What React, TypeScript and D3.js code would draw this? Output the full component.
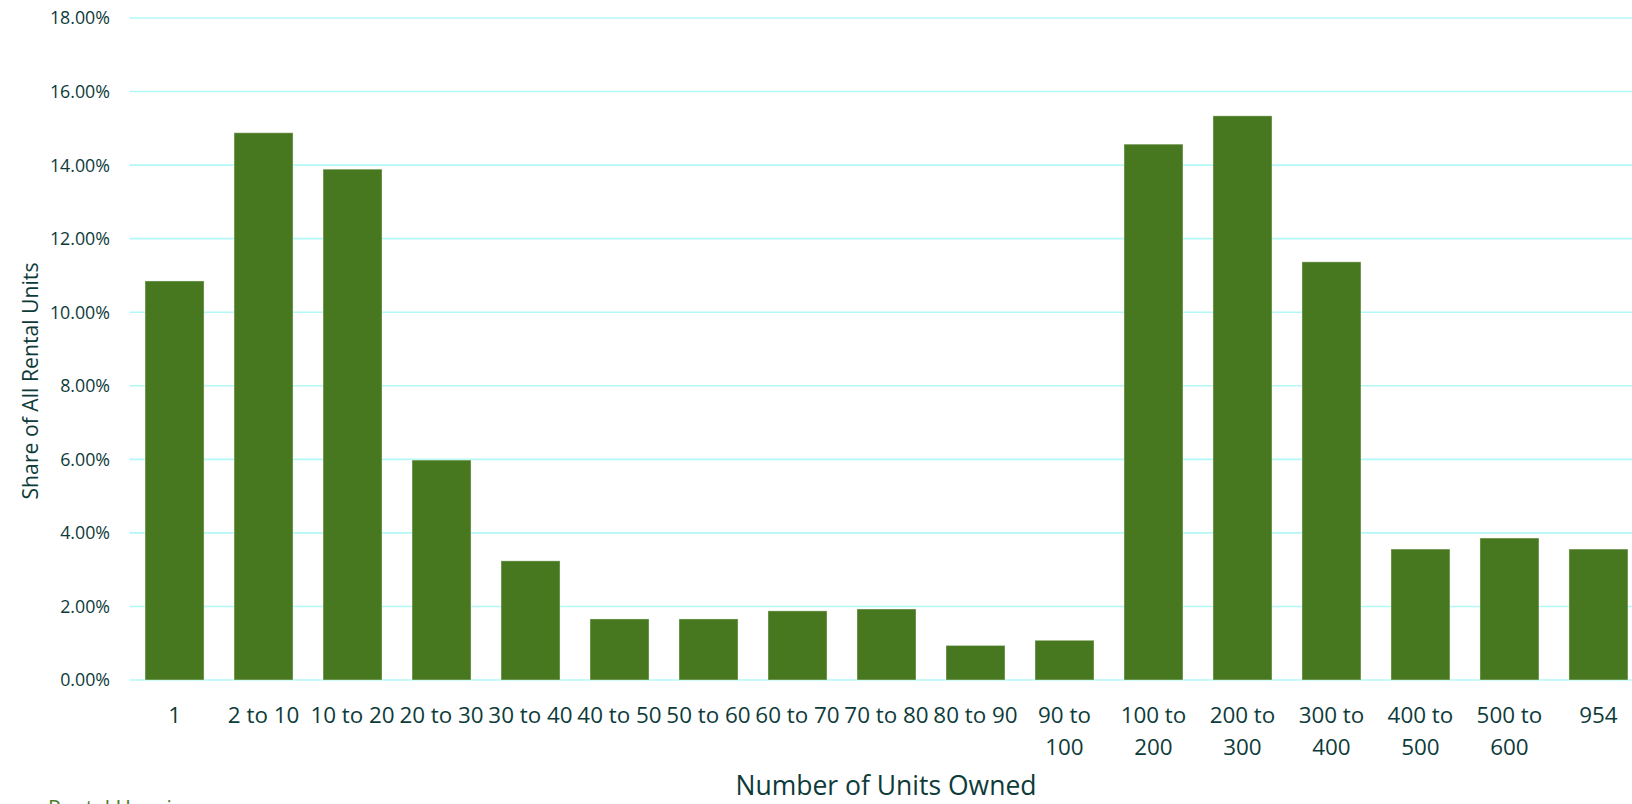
import React from "react";
import * as d3 from "d3";

// units-owned buckets and share of all rental units (in %)
const categories = [
  "1", "2 to 10", "10 to 20", "20 to 30", "30 to 40", "40 to 50", "50 to 60",
  "60 to 70", "70 to 80", "80 to 90", "90 to 100", "100 to 200", "200 to 300",
  "300 to 400", "400 to 500", "500 to 600", "954",
];
const shares = [
  10.85, 14.88, 13.89, 5.98, 3.24, 1.66, 1.66, 1.88, 1.93, 0.94, 1.08, 14.57,
  15.34, 11.37, 3.56, 3.86, 3.56,
];
// how the axis wraps the longer labels
const tickLines = [
  ["1"], ["2 to 10"], ["10 to 20"], ["20 to 30"], ["30 to 40"], ["40 to 50"],
  ["50 to 60"], ["60 to 70"], ["70 to 80"], ["80 to 90"], ["90 to", "100"],
  ["100 to", "200"], ["200 to", "300"], ["300 to", "400"], ["400 to", "500"],
  ["500 to", "600"], ["954"],
];
const yTicks = [0, 2, 4, 6, 8, 10, 12, 14, 16, 18];

const W = 1632;
const H = 804;
const font = "'Open Sans', 'Noto Sans', sans-serif";
const textColor = "#0d3b3a";
const gridColor = "#b3f7f7";
const barColor = "#47781f";

export default function App() {
  const x = d3
    .scaleBand<string>()
    .domain(categories)
    .range([130, 1643])
    .paddingInner(0.337)
    .paddingOuter(0.169);
  const y = d3.scaleLinear().domain([0, 18]).range([680, 18]);
  const fmt = (d: number) => d3.format(".2f")(d) + "%";
  const cx = (c: string) => (x(c) ?? 0) + x.bandwidth() / 2;

  return (
    <svg
      width={W}
      height={H}
      style={{ position: "absolute", left: 0, top: 0, overflow: "hidden", background: "#fff" }}
      fontFamily={font}
    >
      {/* grid */}
      <g>
        {yTicks.map((t) => (
          <line key={t} x1={129.5} x2={W} y1={y(t)} y2={y(t)} stroke={gridColor} strokeWidth={1.6} />
        ))}
      </g>

      {/* y tick labels */}
      <g fill={textColor} fontSize={17.8} textAnchor="end">
        {yTicks.map((t) => (
          <text key={t} x={110} y={y(t)} dy="0.36em">
            {fmt(t)}
          </text>
        ))}
      </g>

      {/* bars */}
      <g>
        {categories.map((c, i) => (
          <rect
            key={c}
            x={x(c)}
            y={y(shares[i])}
            width={x.bandwidth()}
            height={y(0) - y(shares[i])}
            fill={barColor}
            stroke="#ffffff"
            strokeOpacity={0.4}
            strokeWidth={1}
          />
        ))}
      </g>

      {/* x tick labels */}
      <g fill={textColor} fontSize={22.4} textAnchor="middle">
        {categories.map((c, i) => (
          <text key={c} x={cx(c)} y={722.5}>
            {tickLines[i].map((ln, j) => (
              <tspan key={j} x={cx(c)} dy={j === 0 ? 0 : 32.5}>
                {ln}
              </tspan>
            ))}
          </text>
        ))}
      </g>

      {/* axis titles */}
      <text x={886} y={795} fill={textColor} fontSize={26.5} textAnchor="middle">
        Number of Units Owned
      </text>
      <text
        transform="translate(38,381) rotate(-90)"
        fill={textColor}
        fontSize={21.2}
        textAnchor="middle"
      >
        Share of All Rental Units
      </text>

      {/* source note, cut off by the frame as in the original */}
      <text x={48} y={816} fill="#4b7d2b" fontSize={21}>
        Rental Housing
      </text>
    </svg>
  );
}
